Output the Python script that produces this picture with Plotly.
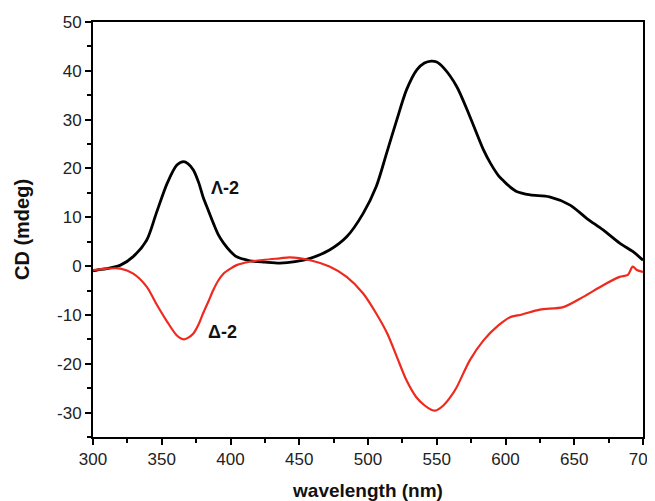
import plotly.graph_objects as go

wl_black = [300, 303, 310, 320, 329, 339, 346, 354, 361, 366, 369, 373, 377, 380, 384, 387.5, 391, 395, 400, 404.5, 414, 425, 436, 447, 458, 472, 484.5, 496.5, 506, 513.5, 521, 528, 535.5, 541, 546, 550, 555, 564.5, 574, 584, 589, 595, 598.5, 603, 608, 618, 632, 647, 659, 671, 683, 693, 700]
cd_black = [-1, -0.8, -0.5, 0.2, 1.9, 5.3, 10.8, 17, 20.7, 21.4, 21.0, 19.7, 17.0, 14.2, 11.3, 8.8, 6.5, 4.7, 3.0, 1.9, 1.1, 0.8, 0.6, 0.9, 1.6, 3.3, 6, 10.8, 16.3, 23.1, 30, 36.1, 40.2, 41.6, 42, 41.8, 40.6, 36.8, 30.7, 23.8, 21.1, 18.5, 17.5, 16.3, 15.3, 14.6, 14.2, 12.5, 9.8, 7.4, 4.7, 2.9, 1.2]

wl_red = [300, 310, 320, 329, 339, 346, 354, 361, 366, 369, 373, 377, 380, 384, 387.5, 391, 395, 400, 404.5, 414, 425, 436, 443, 458, 472, 484.5, 496.5, 506, 514, 521, 528, 535, 541, 546, 549, 555, 560, 564.5, 574, 584, 595, 603, 612, 625, 642, 656.5, 671, 683, 689, 692.5, 695.5, 700]
cd_red = [-0.8, -0.5, -0.5, -1.5, -4.2, -7.7, -11.4, -14.2, -15, -14.7, -13.8, -11.8, -9.7, -7.2, -4.9, -3.0, -1.5, -0.5, 0.2, 0.9, 1.3, 1.6, 1.8, 1.2, -0.1, -2.2, -5.6, -9.7, -13.8, -18.6, -23.4, -26.8, -28.5, -29.4, -29.6, -28.5, -26.8, -24.8, -19.3, -15.2, -12.1, -10.5, -9.9, -8.9, -8.4, -6.3, -3.9, -2.2, -1.8, -0.1, -0.8, -1.2]

x_ticks = [300, 350, 400, 450, 500, 550, 600, 650, 700]
y_ticks = [-30, -20, -10, 0, 10, 20, 30, 40, 50]

labels = ["Λ-2", "Δ-2"]
label_x = [384, 382.5]
label_y = [16, -13.5]

fig = go.Figure()
fig.add_trace(go.Scatter(x=wl_black, y=cd_black, mode="lines",
                         line=dict(color="black", width=2.8, shape="spline", smoothing=0.8), showlegend=False))
fig.add_trace(go.Scatter(x=wl_red, y=cd_red, mode="lines",
                         line=dict(color="#ee2a1e", width=2.2, shape="spline", smoothing=0.8), showlegend=False))

for t, x, y in zip(labels, label_x, label_y):
    fig.add_annotation(x=x, y=y, text=t, showarrow=False, xanchor="left", yanchor="middle",
                       font=dict(family="Liberation Sans, Arial", size=18, color="#111", weight="bold"))

axis_font = dict(family="Liberation Sans, Arial", size=17, color="#222")
xtitle_font = dict(family="Liberation Sans, Arial", size=19, color="#111", weight="bold")
ytitle_font = dict(family="Liberation Sans, Arial", size=20, color="#111", weight="bold")

# the page body has an 8px default margin, so the figure is sized and offset to compensate
fig.update_layout(
    width=647, height=493,
    margin=dict(l=85, r=12, t=14, b=64),
    paper_bgcolor="white", plot_bgcolor="white",
    xaxis=dict(range=[300, 700], tickvals=x_ticks, ticktext=[str(v) for v in x_ticks],
               ticks="outside", ticklen=6, tickwidth=2, tickcolor="black", ticklabeloverflow="allow",
               showline=True, linecolor="black", linewidth=2, mirror=True, showgrid=False, zeroline=False,
               automargin=False, tickfont=axis_font,
               title=dict(text="wavelength (nm)", font=xtitle_font, standoff=17),
               minor=dict(dtick=25, tick0=300, ticks="outside", ticklen=4, tickwidth=2, tickcolor="black", showgrid=False)),
    yaxis=dict(range=[-35, 50], tickvals=y_ticks, ticktext=[str(v) for v in y_ticks],
               ticks="outside", ticklen=6, tickwidth=2, tickcolor="black", ticklabeloverflow="allow",
               showline=True, linecolor="black", linewidth=2, mirror=True, showgrid=False, zeroline=False,
               automargin=False, tickfont=axis_font,
               title=dict(text="CD (mdeg)", font=ytitle_font, standoff=22),
               minor=dict(dtick=5, tick0=0, ticks="outside", ticklen=4, tickwidth=2, tickcolor="black", showgrid=False)),
)

fig.write_html("out.html")
